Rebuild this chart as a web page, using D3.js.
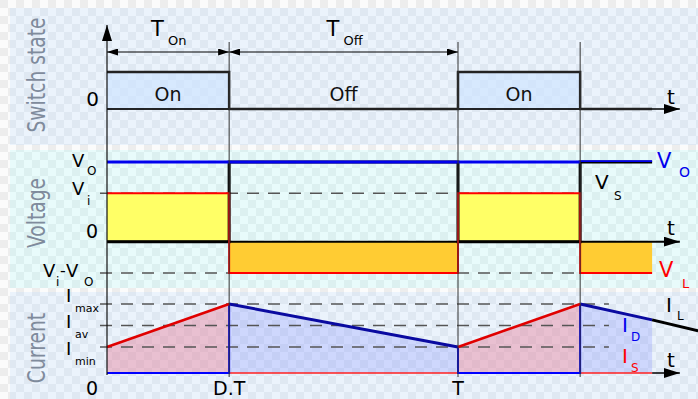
<!DOCTYPE html>
<html><head><meta charset="utf-8">
<script src="https://cdn.jsdelivr.net/npm/d3@7"></script>
<style>body{margin:0;background:#fff}svg{display:block}text{font-family:"DejaVu Sans",sans-serif}</style>
</head><body><svg id="c" width="698" height="399"></svg>
<script>
// ---- data ----
const D = 0.348;                 // duty cycle
const periodEnd = 1.553;         // where the drawn waveforms stop
const switchTimes = [0, D, 1, 1 + D, periodEnd];
const switchValues = [1, 0, 1, 0];
const switchLabels = ["On", "Off", "On"];
const vLevels = [1.65, 1, 0, -0.65];           // Vo, Vi, 0, Vi-Vo
const vLValues = [1, -0.65, 1, -0.65];         // inductor voltage per interval
const vSValues = [0, 1.65, 0, 1.65];           // switch voltage per interval
const iLTimes = [0, D, 1, 1 + D, periodEnd, 1.684];
const iLValues = [1, 2.65, 1, 2.65, 2.04, 1.62];
const iLevels = [2.65, 1.825, 1];
const iLevelSubs = ["max", "av", "min"];
const xTickTimes = [0, D, 1];
const xTickLabels = ["0", "D.T", "T"];
const axisEnd = 1.632;

// ---- setup ----
const svg = d3.select("#c");
const defs = svg.append("defs");
function pattern(id, c1, c2) {
  const p = defs.append("pattern").attr("id", id).attr("width", 16).attr("height", 16)
    .attr("patternUnits", "userSpaceOnUse");
  p.append("rect").attr("width", 16).attr("height", 16).attr("fill", c1);
  p.append("rect").attr("width", 8).attr("height", 8).attr("fill", c2);
  p.append("rect").attr("x", 8).attr("y", 8).attr("width", 8).attr("height", 8).attr("fill", c2);
}
pattern("pg", "#fbfbfb", "#ededed");
pattern("pb", "#ebf3fc", "#dfe8f2");
pattern("pc", "#e8fbfb", "#dcf0f0");
function marker(id, len, half) {
  defs.append("marker").attr("id", id).attr("markerUnits", "userSpaceOnUse")
    .attr("markerWidth", len).attr("markerHeight", half * 2)
    .attr("refX", len).attr("refY", half).attr("orient", "auto-start-reverse")
    .append("path").attr("d", `M0,0L${len},${half}L0,${half * 2}Z`).attr("fill", "#000");
}
marker("ah", 16, 5);
marker("sh", 11, 3.5);

const x = d3.scaleLinear().domain([0, 1]).range([107, 458]);
const yS = d3.scaleLinear().domain([0, 1]).range([109, 72]);
const yV = d3.scaleLinear().domain([-0.65, 1.65]).range([273, 162]);
const yI = d3.scaleLinear().domain([0, 2.65]).range([373, 304]);

svg.append("rect").attr("width", 698).attr("height", 399).attr("fill", "url(#pg)");
svg.append("rect").attr("x", 10).attr("y", 8).attr("width", 688).attr("height", 137).attr("fill", "url(#pb)");
svg.append("rect").attr("x", 10).attr("y", 150).attr("width", 688).attr("height", 138).attr("fill", "url(#pc)");
svg.append("rect").attr("x", 10).attr("y", 292).attr("width", 688).attr("height", 107).attr("fill", "url(#pb)");

function txt(s, px, py, size, color, anchor) {
  return svg.append("text").attr("x", px).attr("y", py).attr("font-size", size)
    .attr("fill", color || "#000").attr("text-anchor", anchor || "start").text(s);
}
function side(s, cy) {
  svg.append("text").attr("transform", `translate(45,${cy}) rotate(-90) scale(0.78,1)`)
    .attr("text-anchor", "middle").attr("font-size", 24).attr("fill", "#7f8b9c").text(s);
}
side("Switch state", 75);
side("Voltage", 213);
side("Current", 348);

const stepLine = (ys) => d3.line().x(d => x(d[0])).y(d => ys(d[1])).curve(d3.curveStepAfter);
const intervals = (vals) => vals.map((v, i) => ({ t0: switchTimes[i], t1: switchTimes[i + 1], v }));

// ---- switch state ----
intervals(switchValues).filter(d => d.v === 1).forEach(d => {
  svg.append("rect").attr("x", x(d.t0)).attr("y", yS(1)).attr("width", x(d.t1) - x(d.t0))
    .attr("height", yS(0) - yS(1)).attr("fill", "rgba(205,228,255,0.65)");
  svg.append("line").attr("x1", x(d.t0)).attr("x2", x(d.t1)).attr("y1", yS(0)).attr("y2", yS(0))
    .attr("stroke", "#333").attr("stroke-width", 1);
});
svg.append("line").attr("x1", x(0)).attr("x2", x(axisEnd)).attr("y1", yS(0)).attr("y2", yS(0))
  .attr("stroke", "#000").attr("stroke-width", 1.5).attr("marker-end", "url(#ah)");
const swPts = switchValues.map((v, i) => [switchTimes[i], v]).concat([[periodEnd, 0]]);
svg.append("path").attr("d", stepLine(yS)(swPts)).attr("fill", "none").attr("stroke", "#222").attr("stroke-width", 2.5);
intervals(switchValues).forEach((d, i) => {
  if (i < switchLabels.length) txt(switchLabels[i], (x(d.t0) + x(d.t1)) / 2, 101, 19, "#111", "middle");
});
txt("0", 99, 106, 20, "#000", "end");
txt("t", 667, 104, 20);
// T_on / T_off dimensions
[[0, D, "On"], [D, 1, "Off"]].forEach(([a, b, s]) => {
  svg.append("line").attr("x1", x(a)).attr("x2", x(b)).attr("y1", 52).attr("y2", 52)
    .attr("stroke", "#000").attr("stroke-width", 1)
    .attr("marker-start", "url(#sh)").attr("marker-end", "url(#sh)");
  const m = (x(a) + x(b)) / 2;
  txt("T", m - 17, 36, 21);
  txt(s, m, 45, 13);
});

// ---- voltage ----
[vLevels[1], vLevels[3]].forEach(v => {
  svg.append("line").attr("x1", 100).attr("x2", x(1 + D)).attr("y1", yV(v)).attr("y2", yV(v))
    .attr("stroke", "#555").attr("stroke-width", 1.5).attr("stroke-dasharray", "12,9");
});
intervals(vLValues).forEach(d => {
  svg.append("rect").attr("x", x(d.t0)).attr("width", x(d.t1) - x(d.t0))
    .attr("y", Math.min(yV(0), yV(d.v))).attr("height", Math.abs(yV(0) - yV(d.v)))
    .attr("fill", d.v > 0 ? "#ffff66" : "#ffcc33");
});
svg.append("line").attr("x1", x(0)).attr("x2", x(axisEnd)).attr("y1", yV(0)).attr("y2", yV(0))
  .attr("stroke", "#000").attr("stroke-width", 2).attr("marker-end", "url(#ah)");
const vsPts = vSValues.map((v, i) => [switchTimes[i], v]).concat([[periodEnd, vSValues[3]]]);
svg.append("path").attr("d", stepLine(yV)(vsPts)).attr("fill", "none").attr("stroke", "#000").attr("stroke-width", 3);
// Vo reference line (blue) over Vs; at the right end Vs shows just below it
svg.append("line").attr("x1", x(0)).attr("x2", x(1 + D)).attr("y1", yV(vLevels[0])).attr("y2", yV(vLevels[0]))
  .attr("stroke", "#0000ee").attr("stroke-width", 3.2);
svg.append("line").attr("x1", x(1 + D)).attr("x2", x(periodEnd)).attr("y1", yV(vLevels[0]) - 0.8).attr("y2", yV(vLevels[0]) - 0.8)
  .attr("stroke", "#0000ee").attr("stroke-width", 1.8);
const vlPts = vLValues.map((v, i) => [switchTimes[i], v]).concat([[periodEnd, vLValues[3]]]);
svg.append("path").attr("d", stepLine(yV)(vlPts)).attr("fill", "none").attr("stroke", "#ff0000").attr("stroke-width", 2);

// left voltage labels
txt("V", 72, 167, 18); txt("O", 87, 175, 12);
txt("V", 72, 195, 18); txt("i", 87, 205, 12);
txt("0", 98, 238, 19, "#000", "end");
txt("V", 43, 277, 18); txt("i", 56, 286, 12); txt("-", 60, 276, 16); txt("V", 66, 277, 18); txt("O", 84, 286, 12);
// right voltage labels
txt("V", 657, 168, 21, "#0000ee"); txt("O", 679, 177, 14, "#0000ee");
txt("V", 595, 189, 20, "#000"); txt("S", 614, 200, 12, "#000");
txt("t", 667, 235, 20);
txt("V", 659, 277, 21, "#ff0000"); txt("L", 682, 288, 13, "#ff0000");

// ---- current ----
iLValues.slice(0, 4).forEach((v, i) => {
  const t0 = iLTimes[i], t1 = iLTimes[i + 1], v1 = iLValues[i + 1];
  const rising = i % 2 === 0;
  const area = d3.area().x(d => x(d[0])).y0(yI(0)).y1(d => yI(d[1]));
  svg.append("path").attr("d", area([[t0, v], [t1, v1]]))
    .attr("fill", rising ? "rgba(232,110,140,0.38)" : "rgba(120,130,255,0.25)");
});
iLevels.forEach(v => {
  svg.append("line").attr("x1", 100).attr("x2", x(1.43)).attr("y1", yI(v)).attr("y2", yI(v))
    .attr("stroke", "#555").attr("stroke-width", 1.5).attr("stroke-dasharray", "12,9");
});
const seg = (pts, color, w) => svg.append("path")
  .attr("d", d3.line().x(d => x(d[0])).y(d => yI(d[1]))(pts))
  .attr("fill", "none").attr("stroke", color).attr("stroke-width", w);
svg.append("line").attr("x1", x(periodEnd)).attr("x2", x(axisEnd)).attr("y1", yI(0)).attr("y2", yI(0))
  .attr("stroke", "#000").attr("stroke-width", 1.5).attr("marker-end", "url(#ah)");
// I_S (red): rising ramps, zero while off
seg([[iLTimes[1], 0], [iLTimes[2], 0]], "#ff2020", 1.5);
seg([[iLTimes[3], 0], [iLTimes[4], 0]], "#ff2020", 1.5);
// I_D (blue): zero while on, verticals at switching
seg([[iLTimes[0], 0], [iLTimes[1], 0], [iLTimes[1], iLValues[1]]], "#0000ff", 2);
seg([[iLTimes[2], iLValues[2]], [iLTimes[2], 0], [iLTimes[3], 0], [iLTimes[3], iLValues[3]]], "#0000ff", 2);
seg([[iLTimes[1], iLValues[1]], [iLTimes[2], iLValues[2]]], "#0a0aa0", 3);
seg([[iLTimes[3], iLValues[3]], [iLTimes[4], iLValues[4]]], "#0a0aa0", 3);
seg([[iLTimes[0], iLValues[0]], [iLTimes[1], iLValues[1]]], "#e00000", 2.5);
seg([[iLTimes[2], iLValues[2]], [iLTimes[3], iLValues[3]]], "#e00000", 2.5);
seg([[iLTimes[4], iLValues[4]], [iLTimes[5], iLValues[5]]], "#000", 3);

// left current labels
iLevels.forEach((v, i) => {
  const base = [302, 328, 355][i];
  txt("I", 66, base, 18);
  txt(iLevelSubs[i], 75, base + 10, 11);
});
txt("I", 666, 312, 20); txt("L", 677, 320, 12);
txt("I", 622, 332, 20, "#0000ee"); txt("D", 631, 341, 12, "#0000ee");
txt("I", 622, 363, 20, "#ff0000"); txt("S", 631, 372, 12, "#ff0000");
txt("t", 667, 367, 20);

// ---- vertical guide lines & y axis ----
[D, 1, 1 + D].forEach(t => {
  svg.append("line").attr("x1", x(t)).attr("x2", x(t)).attr("y1", 42).attr("y2", 377)
    .attr("stroke", "#333").attr("stroke-width", 1);
});
svg.append("line").attr("x1", x(0)).attr("x2", x(0)).attr("y1", 375).attr("y2", 25)
  .attr("stroke", "#111").attr("stroke-width", 1.2).attr("marker-end", "url(#ah)");
xTickTimes.forEach((t, i) => {
  txt(xTickLabels[i], i === 0 ? x(t) - 9 : x(t), 394.5, 19, "#000", i === 0 ? "end" : "middle");
});
</script></body></html>
